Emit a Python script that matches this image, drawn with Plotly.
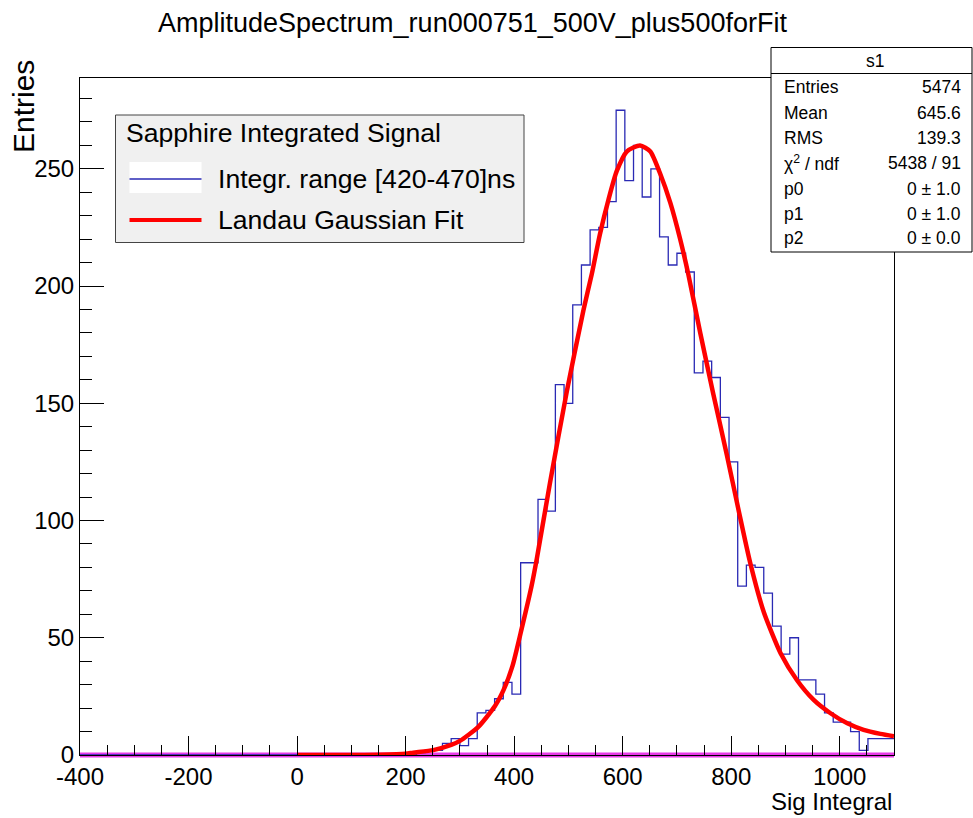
import plotly.graph_objects as go

# ---------------- data ----------------
title_text = "AmplitudeSpectrum_run000751_500V_plus500forFit"
x_title = "Sig Integral"
y_title = "Entries"

axis_x_range = [-400, 1100]
axis_y_range = [0, 288.75]

x_tick_vals = [-400, -200, 0, 200, 400, 600, 800, 1000]
x_tick_text = ["-400", "-200", "0", "200", "400", "600", "800", "1000"]
y_tick_vals = [0, 50, 100, 150, 200, 250]
y_tick_text = ["0", "50", "100", "150", "200", "250"]

# histogram binning and bin contents
bin_low = 220
bin_width = 16
counts = [1, 2, 2, 5, 7, 4, 7, 18, 19, 24, 31, 26,
          82, 82, 109, 104, 158, 150, 192, 209, 224, 225, 236, 275,
          245, 260, 238, 250, 221, 209, 214, 206, 163, 168, 161, 144,
          125, 72, 81, 80, 69, 55, 43, 50, 32, 32, 26, 18,
          14, 14, 10, 2, 7, 7, 7]

# fit curve
fit_x = [0, 100, 150, 200, 214, 251, 284, 300, 334, 365, 381, 397, 414, 432, 442,
         466, 497, 528, 543, 558, 574, 589, 608, 632, 651, 669, 688, 706, 721,
         743, 767, 792, 814, 835, 860, 891, 921, 952, 983, 1014, 1044, 1075, 1100]
fit_y = [0, 0, 0.1, 0.5, 1, 2.1, 4.3, 6, 12, 21, 28, 38, 54, 72, 84,
         116, 155, 190, 205, 222, 237, 249, 257.5, 260, 257.4, 248, 235.4, 220, 205,
         180, 154, 128, 104, 82, 61, 43.4, 32, 23.5, 17.8, 13.5, 10.7, 9, 8]

stats_rows = [("Entries", "5474"), ("Mean", "645.6"), ("RMS", "139.3"),
              ("χ<sup>2</sup> / ndf", "5438 / 91"), ("p0", "0 ± 1.0"),
              ("p1", "0 ± 1.0"), ("p2", "0 ± 0.0")]
stats_name = "s1"

legend_header = "Sapphire Integrated Signal"
legend_hist = "Integr. range [420-470]ns"
legend_fit = "Landau Gaussian Fit"

# ---------------- layout geometry ----------------
FW, FH = 973, 818
L, R, T, B = 80, 894, 78, 755
PW, PH = R - L, B - T


def px(x):
    return (x - L) / PW


def py(y):
    return (B - y) / PH


FONT = "Liberation Sans, Arial, sans-serif"
HIST_COLOR = "#2a2ab4"

edges = [bin_low + bin_width * i for i in range(len(counts) + 1)]

fig = go.Figure()

# histogram outline
fig.add_trace(go.Scatter(x=[axis_x_range[0]] + edges,
                         y=[0] + counts + [counts[-1]],
                         mode="lines",
                         line=dict(color=HIST_COLOR, width=1.3, shape="hv"),
                         showlegend=False))
# fit curve
fig.add_trace(go.Scatter(x=fit_x, y=fit_y, mode="lines",
                         line=dict(color="#ff0000", width=4.5, shape="spline", smoothing=0.6),
                         showlegend=False))

axis_common = dict(
    showline=True, linecolor="black", linewidth=1, mirror=True,
    showgrid=False, zeroline=False, ticks="inside", tickcolor="black",
    tickwidth=1, tickfont=dict(family=FONT, size=24, color="black"),
    tickmode="array",
)

fig.update_layout(
    width=FW, height=FH,
    margin=dict(l=L, r=FW - R, t=T, b=FH - B),
    paper_bgcolor="white", plot_bgcolor="white",
    showlegend=False,
    xaxis=dict(range=axis_x_range, tickvals=x_tick_vals, ticktext=x_tick_text,
               ticklen=19,
               minor=dict(ticks="inside", ticklen=10, dtick=50, tick0=0,
                          tickcolor="black", showgrid=False),
               **axis_common),
    yaxis=dict(range=axis_y_range, tickvals=y_tick_vals, ticktext=y_tick_text,
               ticklen=24,
               minor=dict(ticks="inside", ticklen=12, dtick=10, tick0=0,
                          tickcolor="black", showgrid=False),
               **axis_common),
)

shapes = []
annotations = []

# magenta zero line wrapping the bottom axis line (drawn under the axis line)
shapes.append(dict(type="line", xref="paper", yref="paper", x0=0, x1=1, y0=0, y1=0,
                   line=dict(color="#e83ae8", width=5), layer="below"))

# title
annotations.append(dict(text=title_text, x=px(472), y=py(23), xref="paper", yref="paper",
                        xanchor="center", yanchor="middle", showarrow=False,
                        font=dict(family=FONT, size=27, color="black")))
# axis titles
annotations.append(dict(text=x_title, x=px(894), y=py(801), xref="paper", yref="paper",
                        xanchor="right", yanchor="middle", showarrow=False,
                        font=dict(family=FONT, size=24, color="black")))
annotations.append(dict(text=y_title, x=px(23), y=py(107), xref="paper", yref="paper",
                        xanchor="center", yanchor="middle", showarrow=False, textangle=-90,
                        font=dict(family=FONT, size=30, color="black")))

# legend box
shapes.append(dict(type="rect", xref="paper", yref="paper",
                   x0=px(115.5), x1=px(524), y0=py(115), y1=py(242.5),
                   fillcolor="#f0f0f0", line=dict(color="#444444", width=1), layer="above"))
shapes.append(dict(type="rect", xref="paper", yref="paper",
                   x0=px(129.5), x1=px(201.5), y0=py(162), y1=py(193),
                   fillcolor="white", line=dict(width=0), layer="above"))
shapes.append(dict(type="line", xref="paper", yref="paper",
                   x0=px(129.5), x1=px(201.5), y0=py(179), y1=py(179),
                   line=dict(color=HIST_COLOR, width=1.3), layer="above"))
shapes.append(dict(type="line", xref="paper", yref="paper",
                   x0=px(129.5), x1=px(201.5), y0=py(220), y1=py(220),
                   line=dict(color="#ff0000", width=4), layer="above"))
for txt, xx, yy in [(legend_header, 124, 133), (legend_hist, 216, 179), (legend_fit, 216, 220)]:
    annotations.append(dict(text=txt, x=px(xx), y=py(yy), xref="paper", yref="paper",
                            xanchor="left", yanchor="middle", showarrow=False,
                            font=dict(family=FONT, size=26.6, color="black")))

# stats box
shapes.append(dict(type="rect", xref="paper", yref="paper",
                   x0=px(771), x1=px(972), y0=py(47.5), y1=py(252),
                   fillcolor="white", line=dict(color="black", width=1), layer="above"))
shapes.append(dict(type="line", xref="paper", yref="paper",
                   x0=px(771), x1=px(972), y0=py(73.5), y1=py(73.5),
                   line=dict(color="black", width=1), layer="above"))
annotations.append(dict(text=stats_name, x=px(875), y=py(61), xref="paper", yref="paper",
                        xanchor="center", yanchor="middle", showarrow=False,
                        font=dict(family=FONT, size=17.5, color="black")))
row_y = [87, 113, 138, 163, 189, 214, 238]
for (lab, val), yy in zip(stats_rows, row_y):
    annotations.append(dict(text=lab, x=px(782), y=py(yy), xref="paper", yref="paper",
                            xanchor="left", yanchor="middle", showarrow=False,
                            font=dict(family=FONT, size=17.5, color="black")))
    annotations.append(dict(text=val, x=px(963), y=py(yy), xref="paper", yref="paper",
                            xanchor="right", yanchor="middle", showarrow=False,
                            font=dict(family=FONT, size=17.5, color="black")))

fig.update_layout(shapes=shapes, annotations=annotations)

fig.write_html("out.html")
